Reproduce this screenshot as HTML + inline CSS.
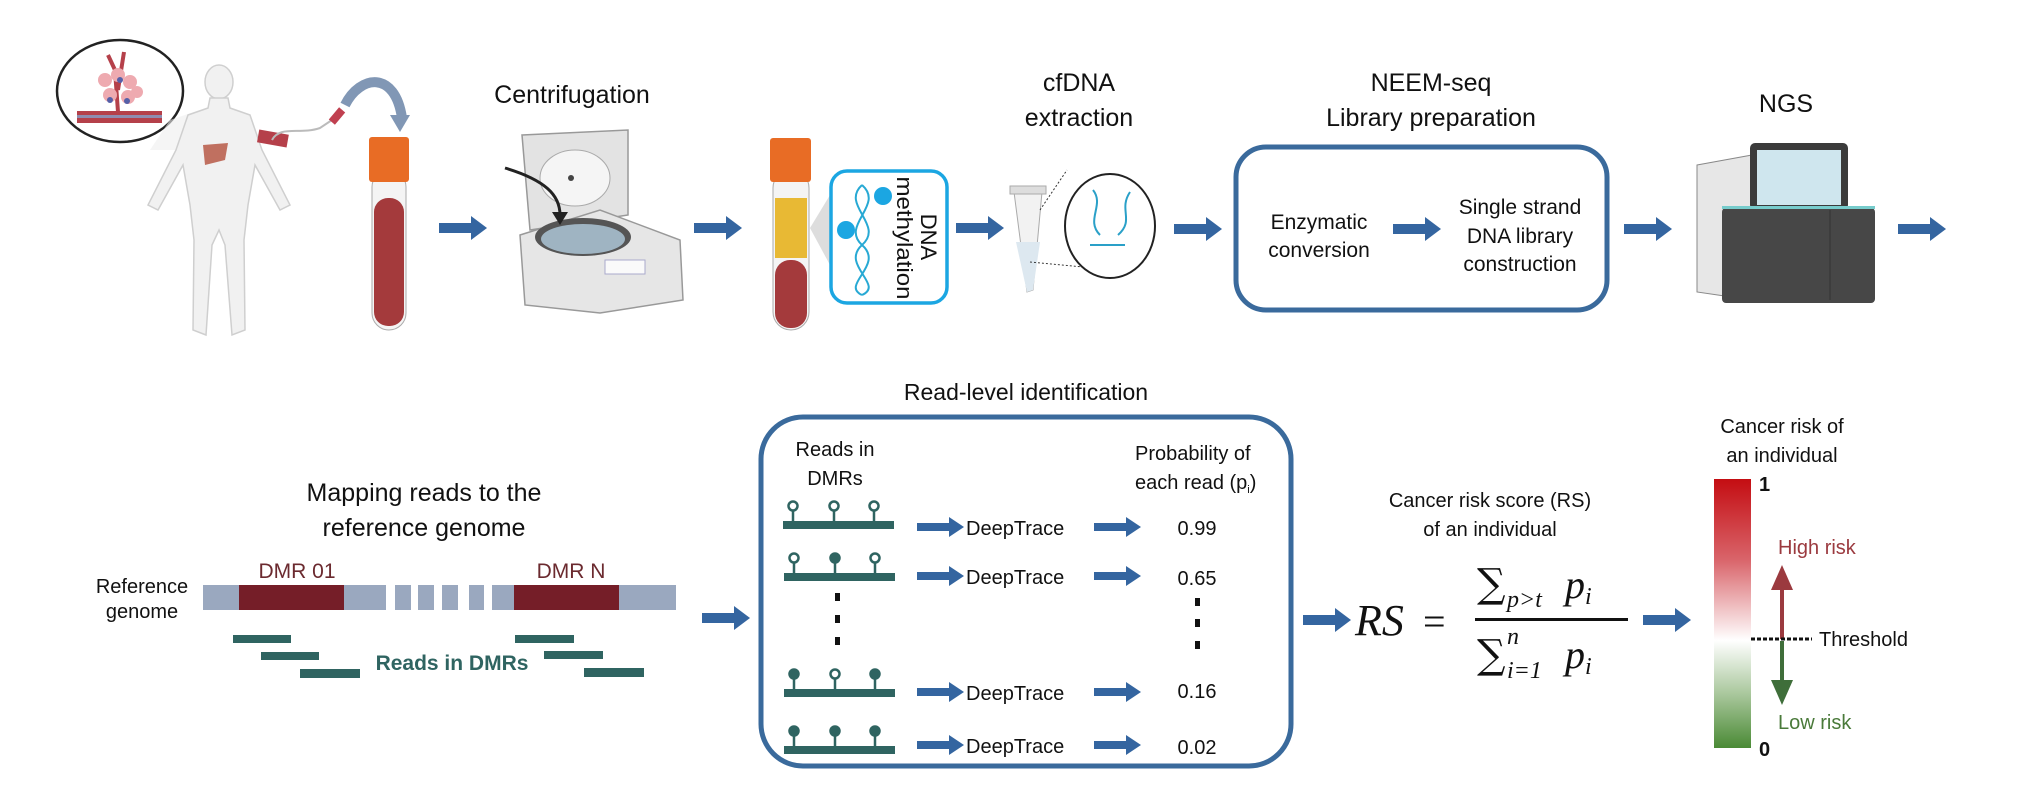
<!DOCTYPE html>
<html><head><meta charset="utf-8"><style>
html,body{margin:0;padding:0;background:#fff;}
svg{display:block;}
text{font-family:"Liberation Sans",sans-serif;fill:#111;}
</style></head><body>
<svg width="2031" height="787" viewBox="0 0 2031 787" xmlns="http://www.w3.org/2000/svg">
<defs>
<linearGradient id="rg" x1="0" y1="0" x2="0" y2="1">
<stop offset="0" stop-color="#c40d12"/><stop offset="0.3" stop-color="#d9646a"/><stop offset="0.6" stop-color="#ffffff"/><stop offset="0.8" stop-color="#a9c79c"/><stop offset="1" stop-color="#4a8a35"/>
</linearGradient>
<g id="arr"><rect x="0" y="-5" width="34" height="10" fill="#3465a0"/><polygon points="32,-12 48,0 32,12" fill="#3465a0"/></g>
<g id="sarr"><rect x="0" y="-4" width="34" height="8" fill="#3465a0"/><polygon points="32,-10 47,0 32,10" fill="#3465a0"/></g>
</defs>

<ellipse cx="120" cy="91" rx="63" ry="51" fill="#fff" stroke="#222" stroke-width="2.5"/>
<polygon points="170,120 200,110 210,150 150,150" fill="#eee" opacity="0.6"/>
<rect x="77" y="111" width="85" height="12" fill="#b5404a"/>
<rect x="77" y="115" width="85" height="3" fill="#8e8cb0"/>
<path d="M118,112 L115,70 L108,55 M118,90 L124,52" stroke="#b5404a" stroke-width="4" fill="none"/>
<g fill="#eeaab0"><circle cx="105" cy="80" r="7"/><circle cx="118" cy="75" r="7"/><circle cx="130" cy="82" r="7"/><circle cx="110" cy="95" r="7"/><circle cx="128" cy="97" r="7"/><circle cx="137" cy="92" r="6"/></g>
<g fill="#5560a8"><circle cx="110" cy="100" r="3"/><circle cx="127" cy="101" r="3"/><circle cx="120" cy="80" r="3"/></g>
<g fill="#f1f1f1" stroke="#cfcfcf" stroke-width="1.5">
<ellipse cx="219" cy="82" rx="14" ry="17"/>
<path d="M210,98 L228,98 L230,108 L250,115 L262,150 L290,205 L280,210 L255,165 L248,205 L244,240 L245,330 L232,335 L225,245 L219,230 L212,245 L206,335 L193,330 L194,240 L190,205 L183,165 L158,210 L148,205 L176,150 L188,115 L208,108 Z"/>
</g>
<path d="M203,145 L228,143 L225,160 L205,165 Z" fill="#c07060"/>
<rect x="258" y="132" width="30" height="13" fill="#b5404a" transform="rotate(10 273 138)"/>
<path d="M272,140 C280,125 300,135 320,128 L335,118" stroke="#bbb" stroke-width="2" fill="none"/>
<rect x="333" y="108" width="8" height="16" fill="#c04050" transform="rotate(40 337 116)"/>
<path d="M345,105 C360,75 395,70 402,118" stroke="#8197b5" stroke-width="10" fill="none"/>
<polygon points="390,115 410,115 400,132" fill="#8197b5"/>
<rect x="372" y="170" width="34" height="160" rx="17" fill="#f4f4f4" stroke="#aaa"/>
<rect x="374" y="198" width="30" height="128" rx="14" fill="#a43a3c"/>
<rect x="369" y="137" width="40" height="45" rx="3" fill="#e86c25"/>
<use href="#arr" x="439" y="228"/>
<text x="572" y="103" font-size="25" text-anchor="middle">Centrifugation</text>
<polygon points="522,135 628,130 628,215 530,230" fill="#e3e3e3" stroke="#999" stroke-width="1.5"/>
<ellipse cx="575" cy="178" rx="35" ry="28" fill="#f5f5f5" stroke="#aaa"/>
<circle cx="571" cy="178" r="3" fill="#444"/>
<polygon points="520,235 600,210 680,240 683,300 600,313 525,305" fill="#e6e6e6" stroke="#999" stroke-width="1.5"/>
<ellipse cx="583" cy="237" rx="48" ry="19" fill="#555"/>
<ellipse cx="583" cy="239" rx="42" ry="15" fill="#9fb4c2"/>
<path d="M505,168 C545,180 560,195 560,215" stroke="#222" stroke-width="3" fill="none"/>
<polygon points="552,212 568,212 560,225" fill="#222"/>
<rect x="605" y="260" width="40" height="14" fill="#fafafa" stroke="#aac"/>
<use href="#arr" x="694" y="228"/>
<rect x="773" y="170" width="36" height="160" rx="18" fill="#f4f4f4" stroke="#aaa"/>
<rect x="775" y="198" width="32" height="60" fill="#e8b934"/>
<rect x="775" y="260" width="32" height="68" rx="15" fill="#a43a3c"/>
<rect x="770" y="138" width="41" height="44" rx="3" fill="#e86c25"/>
<polygon points="810,228 830,195 830,265" fill="#ddd"/>
<rect x="831" y="171" width="116" height="132" rx="16" fill="#fff" stroke="#1ba6e2" stroke-width="3.5"/>
<path d="M862,185 C885,205 840,225 862,245 C885,265 840,285 862,295 M862,185 C840,205 885,225 862,245 C840,265 885,285 862,295" stroke="#27a9d4" stroke-width="2" fill="none"/>
<circle cx="883" cy="196" r="9" fill="#1ba6e2"/><circle cx="846" cy="230" r="9" fill="#1ba6e2"/>
<text transform="translate(921,237) rotate(90)" font-size="22" text-anchor="middle">DNA</text>
<text transform="translate(897,238) rotate(90)" font-size="22" text-anchor="middle" textLength="123" lengthAdjust="spacingAndGlyphs">methylation</text>
<use href="#arr" x="956" y="228"/>
<text x="1079" y="91" font-size="25" text-anchor="middle">cfDNA</text>
<text x="1079" y="126" font-size="25" text-anchor="middle">extraction</text>
<polygon points="1014,192 1042,192 1033,290 1027,292" fill="#f2f2f2" stroke="#aaa"/>
<rect x="1010" y="186" width="36" height="8" fill="#ddd" stroke="#aaa"/>
<polygon points="1016,242 1040,242 1033,290 1027,292" fill="#dde8f0"/>
<line x1="1030" y1="262" x2="1115" y2="270" stroke="#333" stroke-dasharray="2,2"/>
<line x1="1040" y1="210" x2="1067" y2="170" stroke="#333" stroke-dasharray="2,2"/>
<ellipse cx="1110" cy="226" rx="45" ry="52" fill="#fff" stroke="#222" stroke-width="2"/>
<path d="M1093,190 C1105,205 1085,220 1100,235 M1130,192 C1118,210 1135,220 1118,235 M1090,245 L1125,245" stroke="#2aa0c8" stroke-width="2" fill="none"/>
<use href="#arr" x="1174" y="229"/>
<text x="1431" y="91" font-size="25" text-anchor="middle">NEEM-seq</text>
<text x="1431" y="126" font-size="25" text-anchor="middle">Library preparation</text>
<rect x="1236" y="147" width="371" height="163" rx="30" fill="#fff" stroke="#3a6a9c" stroke-width="5"/>
<text x="1319" y="229" font-size="21" text-anchor="middle">Enzymatic</text>
<text x="1319" y="257" font-size="21" text-anchor="middle">conversion</text>
<use href="#arr" x="1393" y="229"/>
<text x="1520" y="214" font-size="21" text-anchor="middle">Single strand</text>
<text x="1520" y="243" font-size="21" text-anchor="middle">DNA library</text>
<text x="1520" y="271" font-size="21" text-anchor="middle">construction</text>
<use href="#arr" x="1624" y="229"/>
<text x="1786" y="112" font-size="25" text-anchor="middle">NGS</text>
<polygon points="1697,165 1752,155 1752,300 1697,292" fill="#e7e7e7" stroke="#888"/>
<rect x="1750" y="143" width="98" height="67" rx="5" fill="#3b3b3b"/>
<rect x="1757" y="150" width="84" height="55" fill="#cfe6ee"/>
<rect x="1722" y="208" width="153" height="95" rx="4" fill="#474747"/>
<rect x="1722" y="206" width="153" height="3" fill="#7cc"/>
<line x1="1830" y1="210" x2="1830" y2="300" stroke="#333"/>
<use href="#arr" x="1898" y="229"/>

<text x="424" y="501" font-size="25" text-anchor="middle">Mapping reads to the</text>
<text x="424" y="536" font-size="25" text-anchor="middle">reference genome</text>
<text x="142" y="593" font-size="20" text-anchor="middle">Reference</text>
<text x="142" y="618" font-size="20" text-anchor="middle">genome</text>
<text x="297" y="578" font-size="21" text-anchor="middle" style="fill:#6b2a2f">DMR 01</text>
<text x="571" y="578" font-size="21" text-anchor="middle" style="fill:#6b2a2f">DMR N</text>
<g fill="#9aa8bf">
<rect x="203" y="585" width="183" height="25"/><rect x="395" y="585" width="16" height="25"/><rect x="418" y="585" width="16" height="25"/><rect x="442" y="585" width="16" height="25"/><rect x="469" y="585" width="15" height="25"/><rect x="492" y="585" width="184" height="25"/>
</g>
<rect x="239" y="585" width="105" height="25" fill="#751e28"/>
<rect x="514" y="585" width="105" height="25" fill="#751e28"/>
<g fill="#2f6461">
<rect x="233" y="635" width="58" height="8"/><rect x="261" y="652" width="58" height="8"/><rect x="300" y="669" width="60" height="9"/>
<rect x="515" y="635" width="59" height="8"/><rect x="544" y="651" width="59" height="8"/><rect x="584" y="668" width="60" height="9"/>
</g>
<text x="452" y="670" font-size="21" font-weight="bold" text-anchor="middle" style="fill:#2f6461">Reads in DMRs</text>
<use href="#arr" x="702" y="618"/>

<text x="1026" y="400" font-size="23" text-anchor="middle">Read-level identification</text>
<rect x="761" y="417" width="530" height="349" rx="42" fill="none" stroke="#3a6a9c" stroke-width="5"/>
<text x="835" y="456" font-size="20" text-anchor="middle">Reads in</text>
<text x="835" y="485" font-size="20" text-anchor="middle">DMRs</text>
<text x="1135" y="460" font-size="20">Probability of</text>
<text x="1135" y="489" font-size="20">each read (p<tspan font-size="11" dy="4">i</tspan><tspan dy="-4">)</tspan></text>
<g stroke="#2f6461" stroke-width="2.5">
<g><rect x="783" y="521" width="111" height="8" fill="#2f6461" stroke="none"/>
<line x1="793" y1="510" x2="793" y2="521"/><line x1="834" y1="510" x2="834" y2="521"/><line x1="874" y1="510" x2="874" y2="521"/>
<circle cx="793" cy="506" r="4.5" fill="#fff"/><circle cx="834" cy="506" r="4.5" fill="#fff"/><circle cx="874" cy="506" r="4.5" fill="#fff"/></g>
<g transform="translate(1,52)"><rect x="783" y="521" width="111" height="8" fill="#2f6461" stroke="none"/>
<line x1="793" y1="510" x2="793" y2="521"/><line x1="834" y1="510" x2="834" y2="521"/><line x1="874" y1="510" x2="874" y2="521"/>
<circle cx="793" cy="506" r="4.5" fill="#fff"/><circle cx="834" cy="506" r="4.5" fill="#2f6461"/><circle cx="874" cy="506" r="4.5" fill="#fff"/></g>
<g transform="translate(1,168)"><rect x="783" y="521" width="111" height="8" fill="#2f6461" stroke="none"/>
<line x1="793" y1="510" x2="793" y2="521"/><line x1="834" y1="510" x2="834" y2="521"/><line x1="874" y1="510" x2="874" y2="521"/>
<circle cx="793" cy="506" r="4.5" fill="#2f6461"/><circle cx="834" cy="506" r="4.5" fill="#fff"/><circle cx="874" cy="506" r="4.5" fill="#2f6461"/></g>
<g transform="translate(1,225)"><rect x="783" y="521" width="111" height="8" fill="#2f6461" stroke="none"/>
<line x1="793" y1="510" x2="793" y2="521"/><line x1="834" y1="510" x2="834" y2="521"/><line x1="874" y1="510" x2="874" y2="521"/>
<circle cx="793" cy="506" r="4.5" fill="#2f6461"/><circle cx="834" cy="506" r="4.5" fill="#2f6461"/><circle cx="874" cy="506" r="4.5" fill="#2f6461"/></g>
</g>
<g fill="#111"><rect x="835" y="593" width="5" height="8"/><rect x="835" y="615" width="5" height="8"/><rect x="835" y="637" width="5" height="8"/>
<rect x="1195" y="598" width="5" height="8"/><rect x="1195" y="619" width="5" height="8"/><rect x="1195" y="641" width="5" height="8"/></g>
<use href="#sarr" x="917" y="527"/><use href="#sarr" x="917" y="576"/><use href="#sarr" x="917" y="692"/><use href="#sarr" x="917" y="745"/>
<g font-size="20"><text x="966" y="535">DeepTrace</text><text x="966" y="584">DeepTrace</text><text x="966" y="700">DeepTrace</text><text x="966" y="753">DeepTrace</text></g>
<use href="#sarr" x="1094" y="527"/><use href="#sarr" x="1094" y="576"/><use href="#sarr" x="1094" y="692"/><use href="#sarr" x="1094" y="745"/>
<g font-size="20" text-anchor="middle"><text x="1197" y="535">0.99</text><text x="1197" y="585">0.65</text><text x="1197" y="698">0.16</text><text x="1197" y="754">0.02</text></g>

<use href="#arr" x="1303" y="620"/>
<text x="1490" y="507" font-size="20" text-anchor="middle">Cancer risk score (RS)</text>
<text x="1490" y="536" font-size="20" text-anchor="middle">of an individual</text>
<text x="1355" y="635" font-size="44" font-style="italic" style="font-family:'Liberation Serif',serif">RS</text>
<text x="1423" y="635" font-size="40" style="font-family:'Liberation Serif',serif">=</text>
<text x="1477" y="597" font-size="40" style="font-family:'DejaVu Serif',serif">∑</text>
<text x="1507" y="607" font-size="24" font-style="italic" style="font-family:'Liberation Serif',serif">p&gt;t</text>
<text x="1565" y="598" font-size="40" font-style="italic" style="font-family:'Liberation Serif',serif">p<tspan font-size="24" dy="6">i</tspan></text>
<rect x="1475" y="618" width="153" height="3" fill="#111"/>
<text x="1477" y="668" font-size="40" style="font-family:'DejaVu Serif',serif">∑</text>
<text x="1507" y="644" font-size="24" font-style="italic" style="font-family:'Liberation Serif',serif">n</text>
<text x="1507" y="678" font-size="24" font-style="italic" style="font-family:'Liberation Serif',serif">i=1</text>
<text x="1565" y="668" font-size="40" font-style="italic" style="font-family:'Liberation Serif',serif">p<tspan font-size="24" dy="6">i</tspan></text>
<use href="#arr" x="1643" y="620"/>

<text x="1782" y="433" font-size="20" text-anchor="middle">Cancer risk of</text>
<text x="1782" y="462" font-size="20" text-anchor="middle">an individual</text>
<rect x="1714" y="479" width="37" height="269" fill="url(#rg)"/>
<text x="1759" y="491" font-size="20" font-weight="bold">1</text>
<text x="1759" y="756" font-size="20" font-weight="bold">0</text>
<text x="1778" y="554" font-size="20" style="fill:#9b3a3f">High risk</text>
<rect x="1780" y="585" width="4" height="54" fill="#9b3a3f"/>
<polygon points="1771,590 1782,565 1793,590" fill="#9b3a3f"/>
<rect x="1780" y="641" width="4" height="42" fill="#3f6e3a"/>
<polygon points="1771,680 1782,705 1793,680" fill="#3f6e3a"/>
<line x1="1751" y1="639" x2="1812" y2="639" stroke="#111" stroke-width="3" stroke-dasharray="4,2"/>
<text x="1819" y="646" font-size="20">Threshold</text>
<text x="1778" y="729" font-size="20" style="fill:#4a7a3a">Low risk</text>
</svg>
</body></html>
